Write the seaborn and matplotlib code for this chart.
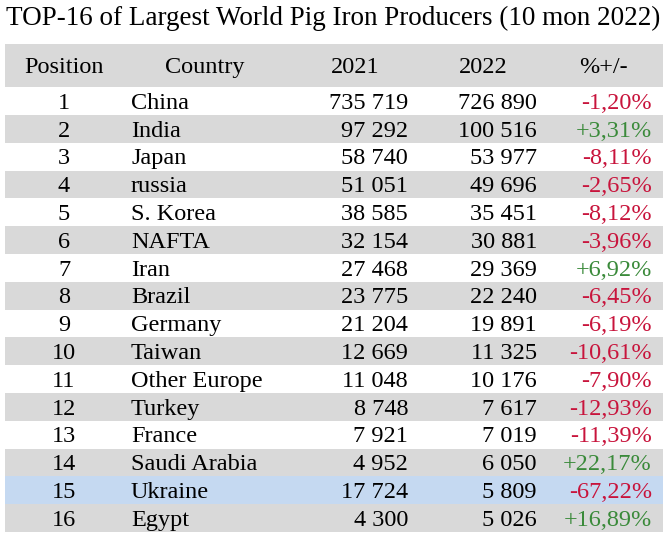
import matplotlib
matplotlib.use("Agg")
import matplotlib.pyplot as plt
from matplotlib import font_manager
import numpy as np
import pandas as pd
import seaborn as sns

sns.set_theme(style="white")

# pick a Times-like serif that is really installed
installed = {f.name for f in font_manager.fontManager.ttflist}
serif = next((f for f in ["Liberation Serif", "Times New Roman", "Nimbus Roman",
                          "Tinos", "DejaVu Serif"] if f in installed), "serif")
plt.rcParams["font.family"] = [serif, "DejaVu Serif"]
plt.rcParams["text.color"] = "black"

W, H = 667, 535
FONT_SIZE = 17.5
TITLE_SIZE = 19.5

GRAY = "#d9d9d9"
BLUE = "#c5d9f1"
RED = "#c8143c"
GREEN = "#3a8a3a"

positions = list(range(1, 17))
countries = [
    "China", "India", "Japan", "russia", "S. Korea", "NAFTA", "Iran", "Brazil",
    "Germany", "Taiwan", "Other Europe", "Turkey", "France", "Saudi Arabia",
    "Ukraine", "Egypt",
]
prod_2021 = [735719, 97292, 58740, 51051, 38585, 32154, 27468, 23775,
             21204, 12669, 11048, 8748, 7921, 4952, 17724, 4300]
prod_2022 = [726890, 100516, 53977, 49696, 35451, 30881, 29369, 22240,
             19891, 11325, 10176, 7617, 7019, 6050, 5809, 5026]
change = [-1.20, 3.31, -8.11, -2.65, -8.12, -3.96, 6.92, -6.45,
          -6.19, -10.61, -7.90, -12.93, -11.39, 22.17, -67.22, 16.89]
headers = ["Position", "Country", "2021", "2022", "%+/-"]
highlight = "Ukraine"

df = pd.DataFrame({
    "Position": positions,
    "Country": countries,
    "y2021": prod_2021,
    "y2022": prod_2022,
    "change": change,
})


def fmt_int(v):
    return "{:,}".format(v).replace(",", " ")


def fmt_pct(v):
    return ("+" if v > 0 else "") + "{:.2f}%".format(v).replace(".", ",")


# table frame in pixels
left, right, top, bottom = 5, 663, 44, 532
header_h = 43 / 27.75  # header height in row units
n = len(df)

fig = plt.figure(figsize=(W / 100, H / 100), dpi=100)
ax = fig.add_axes([left / W, 1 - bottom / H, (right - left) / W, (bottom - top) / H])
ax.set_xlim(left, right)
ax.set_ylim(header_h + n, 0)
ax.axis("off")

# row backgrounds
row_colors = []
for i, c in enumerate(df["Country"]):
    if c == highlight:
        row_colors.append(BLUE)
    elif i % 2 == 1:
        row_colors.append(GRAY)
    else:
        row_colors.append("white")
centers = header_h + np.arange(n) + 0.5
ax.barh(centers, right - left, left=left, height=1.0, color=row_colors, linewidth=0)
ax.barh([header_h / 2], right - left, left=left, height=header_h, color=GRAY, linewidth=0)

txt = dict(va="center", fontsize=FONT_SIZE, family=[serif, "DejaVu Serif"])

# header
header_x = [64, 205, 355, 483, 603]
for x, h in zip(header_x, headers):
    ax.text(x, header_h / 2 + 0.08, h, ha="center", **txt)

# body
for yc, row in zip(centers, df.itertuples()):
    yt = yc + 0.08
    ax.text(64, yt, str(row.Position), ha="center", **txt)
    ax.text(131, yt, row.Country, ha="left", **txt)
    ax.text(408, yt, fmt_int(row.y2021), ha="right", **txt)
    ax.text(537, yt, fmt_int(row.y2022), ha="right", **txt)
    ax.text(652, yt, fmt_pct(row.change), ha="right",
            color=GREEN if row.change > 0 else RED, **txt)

fig.text(333 / W, 1 - 18 / H, "TOP-16 of Largest World Pig Iron Producers (10 mon 2022)",
         ha="center", va="center", fontsize=TITLE_SIZE, family=[serif, "DejaVu Serif"])

fig.savefig("out.png", dpi=100)
